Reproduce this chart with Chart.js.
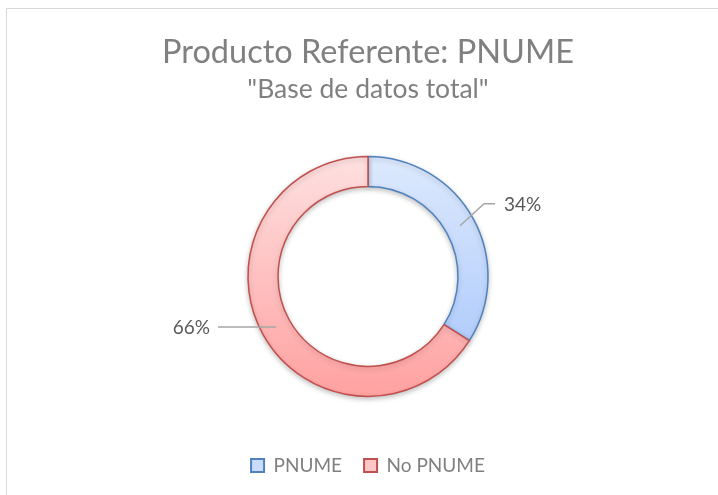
<!DOCTYPE html>
<html>
<head>
<meta charset="utf-8">
<script src="https://cdn.jsdelivr.net/npm/chart.js@4"></script>
<style>
  html, body { margin: 0; padding: 0; background: #fff; }
  #wrap { width: 718px; height: 495px; }
</style>
</head>
<body>
<div id="wrap"><canvas id="pnumeChart" width="718" height="495"></canvas></div>
<script>
/* Producto Referente: PNUME - share of total database */
const categories = ["PNUME", "No PNUME"];
const shares = [34, 66];

const fillTop = ["#dde9fd", "#fee0e0"];
const fillBottom = ["#a5c5fb", "#ffa1a1"];
const strokeColours = ["#4f81bd", "#c0504d"];
const legendFill = ["#c9dcfb", "#ffc6c6"];

// excel-ish frame around the chart
const framePlugin = {
    id: "frame",
    beforeDraw(chart) {
        const ctx = chart.ctx;
        ctx.save();
        ctx.fillStyle = "#ffffff";
        ctx.fillRect(0, 0, chart.width, chart.height);
        ctx.strokeStyle = "#d9d9d9";
        ctx.lineWidth = 1;
        ctx.strokeRect(6.5, 8.5, chart.width, chart.height);
        ctx.restore();
    }
};

// soft drop shadow under the ring
const shadowPlugin = {
    id: "ringShadow",
    beforeDatasetsDraw(chart) {
        const ctx = chart.ctx;
        ctx.save();
        ctx.shadowColor = "rgba(0,0,0,0.22)";
        ctx.shadowBlur = 5;
        ctx.shadowOffsetY = 2;
    },
    afterDatasetsDraw(chart) {
        chart.ctx.restore();
    }
};

// percentage labels with leader lines
const leaderPlugin = {
    id: "leaderLabels",
    afterDraw(chart) {
        const ctx = chart.ctx;
        const meta = chart.getDatasetMeta(0);
        const total = shares.reduce((a, b) => a + b, 0);
        meta.data.forEach((arc, i) => {
            const mid = (arc.startAngle + arc.endAngle) / 2;
            const r = (arc.innerRadius + arc.outerRadius) / 2;
            const sx = arc.x + Math.cos(mid) * r;
            const sy = arc.y + Math.sin(mid) * r;
            const text = Math.round(shares[i] / total * 100) + "%";
            ctx.save();
            ctx.strokeStyle = "#a6a6a6";
            ctx.lineWidth = 1.5;
            ctx.beginPath();
            ctx.moveTo(sx, sy);
            let tx, ty;
            if (Math.cos(mid) > 0) {
                ctx.lineTo(sx + 24, sy - 22);
                ctx.lineTo(sx + 35, sy - 22);
                tx = sx + 44; ty = sy - 22;
                ctx.textAlign = "left";
            } else {
                ctx.lineTo(sx - 58, sy);
                tx = sx - 66; ty = sy;
                ctx.textAlign = "right";
            }
            ctx.stroke();
            ctx.fillStyle = "#595959";
            ctx.font = "19px Lato";
            ctx.textBaseline = "middle";
            ctx.fillText(text, tx, ty + 1);
            ctx.restore();
        });
    }
};

function ringGradient(context) {
    const chart = context.chart;
    const area = chart.chartArea;
    const i = context.dataIndex;
    if (!area) return fillBottom[i];
    const cy = (area.top + area.bottom) / 2;
    const g = chart.ctx.createLinearGradient(0, cy - 120, 0, cy + 120);
    g.addColorStop(0, fillTop[i]);
    g.addColorStop(1, fillBottom[i]);
    return g;
}

new Chart(document.getElementById("pnumeChart"), {
    type: "doughnut",
    data: {
        labels: categories,
        datasets: [{
            data: shares,
            backgroundColor: ringGradient,
            borderColor: strokeColours,
            borderWidth: 1.5,
            hoverOffset: 0
        }]
    },
    options: {
        responsive: false,
        animation: false,
        radius: 120,
        cutout: "75%",
        layout: { padding: { left: 18, right: 0, top: 33, bottom: 10 } },
        plugins: {
            tooltip: { enabled: false },
            title: {
                display: true,
                text: "Producto Referente: PNUME",
                color: "#808080",
                font: { family: "Lato", size: 32.5, weight: "normal" },
                padding: { top: 0, bottom: 2 }
            },
            subtitle: {
                display: true,
                text: "\"Base de datos total\"",
                color: "#808080",
                font: { family: "Lato", size: 26.5, weight: "normal" },
                padding: { top: 0, bottom: 13 }
            },
            legend: {
                position: "bottom",
                labels: {
                    boxWidth: 13,
                    boxHeight: 13,
                    padding: 22,
                    color: "#808080",
                    font: { family: "Lato", size: 19 },
                    generateLabels: () => categories.map((c, i) => ({
                        text: c,
                        fillStyle: legendFill[i],
                        strokeStyle: strokeColours[i],
                        lineWidth: 2,
                        fontColor: "#808080",
                        index: i
                    }))
                }
            }
        }
    },
    plugins: [framePlugin, shadowPlugin, leaderPlugin]
});
</script>
</body>
</html>
